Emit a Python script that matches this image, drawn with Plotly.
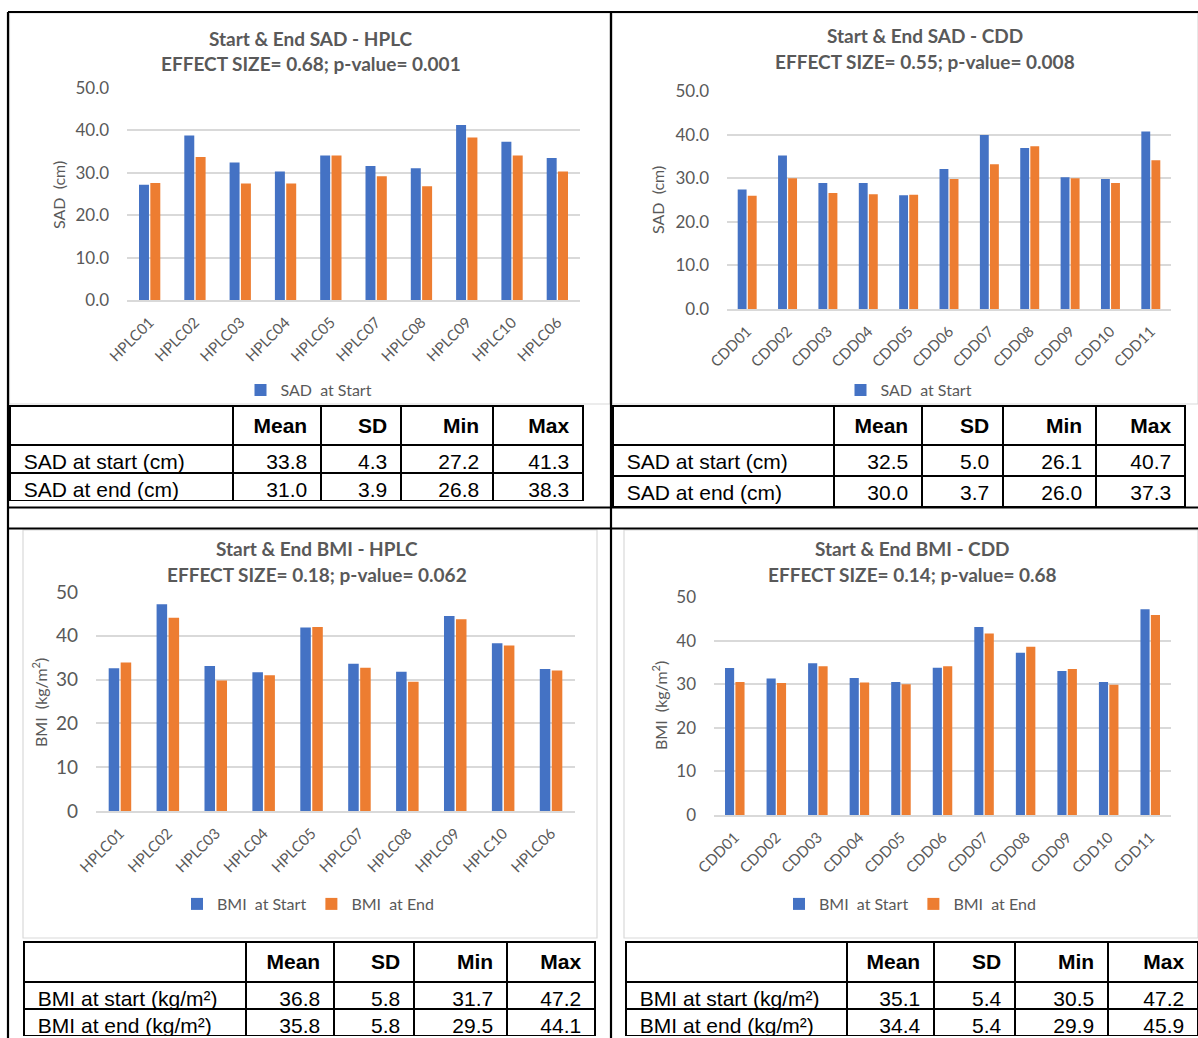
import plotly.graph_objects as go

W, H = 1198, 1038

# ---------------- data ----------------
hplc_ids = ["HPLC01", "HPLC02", "HPLC03", "HPLC04", "HPLC05",
            "HPLC07", "HPLC08", "HPLC09", "HPLC10", "HPLC06"]
cdd_ids = ["CDD01", "CDD02", "CDD03", "CDD04", "CDD05", "CDD06",
           "CDD07", "CDD08", "CDD09", "CDD10", "CDD11"]

sad_hplc_start = [27.2, 38.8, 32.4, 30.3, 34.1, 31.6, 31.1, 41.3, 37.3, 33.5]
sad_hplc_end = [27.6, 33.7, 27.5, 27.5, 34.1, 29.2, 26.8, 38.3, 34.1, 30.3]

sad_cdd_start = [27.4, 35.2, 28.9, 28.9, 26.1, 32.1, 39.9, 36.9, 30.2, 29.8, 40.7]
sad_cdd_end = [26.0, 30.0, 26.6, 26.3, 26.2, 29.8, 33.2, 37.3, 30.0, 28.9, 34.1]

bmi_hplc_start = [32.6, 47.2, 33.1, 31.7, 41.9, 33.6, 31.8, 44.5, 38.3, 32.4]
bmi_hplc_end = [33.9, 44.1, 29.8, 31.0, 42.0, 32.7, 29.5, 43.8, 37.8, 32.1]

bmi_cdd_start = [33.7, 31.3, 34.8, 31.4, 30.5, 33.8, 43.1, 37.2, 33.0, 30.5, 47.2]
bmi_cdd_end = [30.5, 30.3, 34.1, 30.4, 30.0, 34.1, 41.6, 38.6, 33.5, 29.9, 45.9]

stat_headers = ["Mean", "SD", "Min", "Max"]

sad_rows = ["SAD at start (cm)", "SAD at end (cm)"]
bmi_rows = ["BMI at start (kg/m²)", "BMI at end (kg/m²)"]

sad_hplc_mean = [33.8, 31.0]
sad_hplc_sd = [4.3, 3.9]
sad_hplc_min = [27.2, 26.8]
sad_hplc_max = [41.3, 38.3]

sad_cdd_mean = [32.5, 30.0]
sad_cdd_sd = [5.0, 3.7]
sad_cdd_min = [26.1, 26.0]
sad_cdd_max = [40.7, 37.3]

bmi_hplc_mean = [36.8, 35.8]
bmi_hplc_sd = [5.8, 5.8]
bmi_hplc_min = [31.7, 29.5]
bmi_hplc_max = [47.2, 44.1]

bmi_cdd_mean = [35.1, 34.4]
bmi_cdd_sd = [5.4, 5.4]
bmi_cdd_min = [30.5, 29.9]
bmi_cdd_max = [47.2, 45.9]

titles = [
    ("Start & End SAD - HPLC", "EFFECT SIZE= 0.68; p-value= 0.001"),
    ("Start & End SAD - CDD", "EFFECT SIZE= 0.55; p-value= 0.008"),
    ("Start & End BMI - HPLC", "EFFECT SIZE= 0.18; p-value= 0.062"),
    ("Start & End BMI - CDD", "EFFECT SIZE= 0.14; p-value= 0.68"),
]

BLUE = "#4472C4"
ORANGE = "#ED7D31"
GRID = "#d9d9d9"
TXT = "#595959"
CHART_FONT = "Lato, Carlito, Calibri, sans-serif"
TABLE_FONT = "Liberation Sans, Arial, sans-serif"
NB = "\u00a0"


def fx(px):
    return min(max(px / W, 0.0), 1.0)


def fy(py):
    return min(max(1 - py / H, 0.0), 1.0)


# ---------------- panel layout (pixel geometry) ----------------
panels = [
    dict(cats=hplc_ids, start=sad_hplc_start, end=sad_hplc_end,
         sname="SAD  at Start", ename="SAD  at End", end_in_legend=False,
         plot=(127, 580, 88, 300), tickfmt=".1f", ytick_size=17, xtick_size=15,
         ytitle="SAD  (cm)", ytitle_pos=(58, 195),
         title_pos=(311, 38, 63), legend_pos=(309, 390),
         frame=(9.5, 610, 13, 404),
         table=dict(rows=sad_rows, cols=[sad_hplc_mean, sad_hplc_sd, sad_hplc_min, sad_hplc_max],
                    box=(10, 583, 406, 502), widths=[223, 88, 80, 92, 90],
                    hh=39, ch=28, fs=21)),
    dict(cats=cdd_ids, start=sad_cdd_start, end=sad_cdd_end,
         sname="SAD  at Start", ename="SAD  at End", end_in_legend=False,
         plot=(727, 1171, 91, 309), tickfmt=".1f", ytick_size=17, xtick_size=15,
         ytitle="SAD  (cm)", ytitle_pos=(658, 200),
         title_pos=(925, 36, 62), legend_pos=(909, 390),
         frame=(612, 1198, 13, 404),
         table=dict(rows=sad_rows, cols=[sad_cdd_mean, sad_cdd_sd, sad_cdd_min, sad_cdd_max],
                    box=(613, 1185, 406, 508), widths=[221, 88, 81, 93, 89],
                    hh=38, ch=31, fs=21)),
    dict(cats=hplc_ids, start=bmi_hplc_start, end=bmi_hplc_end,
         sname="BMI  at Start", ename="BMI  at End", end_in_legend=True,
         plot=(96, 575, 592, 811), tickfmt="d", ytick_size=19, xtick_size=15,
         ytitle="BMI  (kg/m<sup>2</sup>)", ytitle_pos=(39, 703),
         title_pos=(317, 548, 574), legend_pos=(308, 904),
         frame=(23, 597, 530, 938),
         table=dict(rows=bmi_rows, cols=[bmi_hplc_mean, bmi_hplc_sd, bmi_hplc_min, bmi_hplc_max],
                    box=(24, 595, 942, 1037), widths=[222, 88, 80, 93, 88],
                    hh=40, ch=27, fs=21)),
    dict(cats=cdd_ids, start=bmi_cdd_start, end=bmi_cdd_end,
         sname="BMI  at Start", ename="BMI  at End", end_in_legend=True,
         plot=(714, 1171, 597, 815), tickfmt="d", ytick_size=17, xtick_size=15,
         ytitle="BMI  (kg/m<sup>2</sup>)", ytitle_pos=(659, 706),
         title_pos=(912, 548, 574), legend_pos=(910, 904),
         frame=(624, 1198, 530, 938),
         table=dict(rows=bmi_rows, cols=[bmi_cdd_mean, bmi_cdd_sd, bmi_cdd_min, bmi_cdd_max],
                    box=(626, 1198, 942, 1037), widths=[221, 87, 81, 93, 90],
                    hh=40, ch=27, fs=21)),
]

fig = go.Figure()
layout = dict(
    width=W, height=H, autosize=False,
    margin=dict(l=0, r=0, t=0, b=0, pad=0, autoexpand=False),
    paper_bgcolor="white", plot_bgcolor="white",
    barmode="group", bargap=0.5, bargroupgap=0.12,
    showlegend=True,
    annotations=[], shapes=[],
)

for i, p in enumerate(panels, start=1):
    sfx = "" if i == 1 else str(i)
    lg = "legend" if i == 1 else f"legend{i}"
    xa, ya = f"x{sfx}", f"y{sfx}"
    fig.add_trace(go.Bar(x=p["cats"], y=p["start"], name=p["sname"],
                         marker=dict(color=BLUE, line=dict(width=0)),
                         xaxis=xa, yaxis=ya, legend=lg))
    fig.add_trace(go.Bar(x=p["cats"], y=p["end"], name=p["ename"],
                         marker=dict(color=ORANGE, line=dict(width=0)),
                         xaxis=xa, yaxis=ya, legend=lg,
                         showlegend=p["end_in_legend"]))
    l, r, t, b = p["plot"]
    layout[f"xaxis{sfx}"] = dict(
        domain=[fx(l), fx(r)], anchor=ya, type="category", automargin=False,
        tickangle=-45, showgrid=False, showline=True, linecolor=GRID, linewidth=1.5,
        ticks="", ticklabelstandoff=6,
        tickfont=dict(family=CHART_FONT, size=p["xtick_size"], color=TXT),
        fixedrange=True,
    )
    layout[f"yaxis{sfx}"] = dict(
        domain=[fy(b), fy(t)], anchor=xa, range=[0, 50], dtick=10, tick0=0,
        tickformat=p["tickfmt"], showgrid=True, gridcolor=GRID, gridwidth=1.5,
        zeroline=False, showline=False, ticks="", ticklabelstandoff=17, automargin=False,
        tickfont=dict(family=CHART_FONT, size=p["ytick_size"], color=TXT),
        fixedrange=True,
    )
    lx, lyy = p["legend_pos"]
    layout[lg] = dict(
        orientation="h", x=fx(lx), xanchor="center", y=fy(lyy), yanchor="middle",
        font=dict(family=CHART_FONT, size=16, color=TXT),
        bgcolor="rgba(0,0,0,0)", traceorder="normal", itemwidth=30,
    )
    cx, y1, y2 = p["title_pos"]
    layout["annotations"].append(dict(
        text=f"<b>{titles[i-1][0]}</b>", x=fx(cx), y=fy(y1), xref="paper", yref="paper",
        xanchor="center", yanchor="middle", showarrow=False,
        font=dict(family=CHART_FONT, size=19, color=TXT)))
    layout["annotations"].append(dict(
        text=f"<b>{titles[i-1][1]}</b>", x=fx(cx), y=fy(y2), xref="paper", yref="paper",
        xanchor="center", yanchor="middle", showarrow=False,
        font=dict(family=CHART_FONT, size=19, color=TXT)))
    tx, tyy = p["ytitle_pos"]
    layout["annotations"].append(dict(
        text=p["ytitle"], x=fx(tx), y=fy(tyy), xref="paper", yref="paper",
        xanchor="center", yanchor="middle", showarrow=False, textangle=-90,
        font=dict(family=CHART_FONT, size=16, color=TXT)))
    fl, fr, ft, fb = p["frame"]
    layout["shapes"].append(dict(
        type="rect", xref="paper", yref="paper", x0=fx(fl), x1=fx(fr), y0=fy(fb), y1=fy(ft),
        line=dict(color=GRID, width=1.2), fillcolor="rgba(0,0,0,0)", layer="below"))

    # statistics table
    tb = p["table"]
    tl, tr, tt, tbm = tb["box"]
    col_vals = [[NB + s for s in tb["rows"]]] + \
               [[f"{v:.1f}" + NB for v in c] for c in tb["cols"]]
    fig.add_trace(go.Table(
        domain=dict(x=[fx(tl), fx(tr)], y=[fy(tbm), fy(tt)]),
        columnwidth=tb["widths"],
        header=dict(values=[""] + [f"<b>{h}</b>" + NB for h in stat_headers],
                    align=["left", "right", "right", "right", "right"],
                    height=tb["hh"], fill=dict(color="white"),
                    line=dict(color="black", width=2),
                    font=dict(family=TABLE_FONT, size=tb["fs"], color="black")),
        cells=dict(values=col_vals,
                   align=["left", "right", "right", "right", "right"],
                   height=tb["ch"], fill=dict(color="white"),
                   line=dict(color="black", width=2),
                   font=dict(family=TABLE_FONT, size=tb["fs"], color="black")),
    ))

# outer document-table lines
black_lines = [
    (8, 12, 1198, 12),
    (8, 507.5, 1198, 507.5),
    (8, 528.5, 1198, 528.5),
    (8, 12, 8, 1038),
    (611, 12, 611, 1038),
]
for x0, y0, x1, y1 in black_lines:
    layout["shapes"].append(dict(
        type="line", xref="paper", yref="paper", x0=fx(x0), x1=fx(x1), y0=fy(y0), y1=fy(y1),
        line=dict(color="black", width=2.2)))

fig.update_layout(**layout)
fig.write_html("out.html")
